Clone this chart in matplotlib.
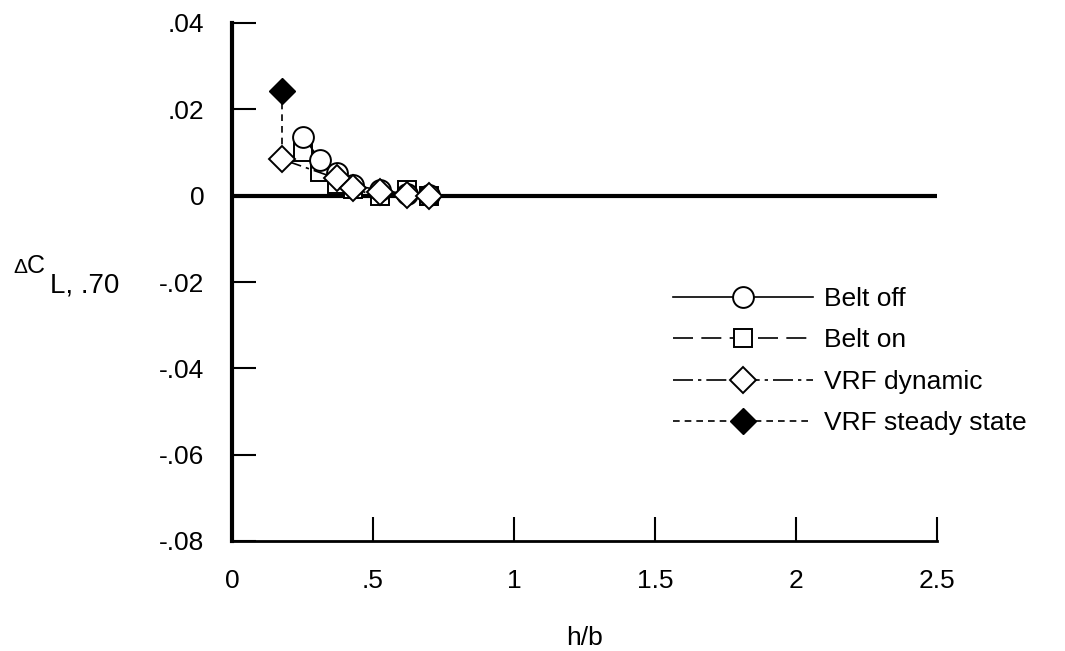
import numpy as np
import matplotlib.pyplot as plt

plt.rcParams['font.family'] = ['Liberation Sans', 'DejaVu Sans']
plt.rcParams['axes.unicode_minus'] = False

# h/b と ΔC_L,.70
hb_off = [0.253, 0.312, 0.371, 0.43, 0.525, 0.62, 0.70]
dcl_off = [0.0137, 0.0082, 0.0052, 0.0024, 0.0013, 0.0004, 0.0002]

hb_on = [0.253, 0.312, 0.371, 0.43, 0.525, 0.62, 0.70]
dcl_on = [0.0102, 0.0055, 0.0027, 0.0015, -0.0001, 0.0012, 0.0]

hb_dyn = [0.178, 0.371, 0.43, 0.525, 0.62, 0.70]
dcl_dyn = [0.0084, 0.0040, 0.0018, 0.0008, 0.0002, 0.0]

hb_ss = [0.178, 0.178]
dcl_ss = [0.0243, 0.0084]

xticks = [0, 0.5, 1, 1.5, 2, 2.5]
xlabels = ['0', '.5', '1', '1.5', '2', '2.5']
yticks = [-0.08, -0.06, -0.04, -0.02, 0, 0.02, 0.04]
ylabels = ['-.08', '-.06', '-.04', '-.02', '0', '.02', '.04']

fs = 19
fig = plt.figure(figsize=(10.65, 6.51), dpi=100)
ax = fig.add_axes([232/1065, 1-541/651, 705/1065, 518/651])

lw = 1.2
mew = 1.4
ax.plot(hb_ss, dcl_ss, color='k', lw=lw, ls=(0, (4, 3)), marker='D', ms=13,
        mfc='k', mec='k', markevery=[0], label='VRF steady state', zorder=3)
ax.plot(hb_off, dcl_off, color='k', lw=lw, ls='-', marker='o', ms=15,
        mfc='white', mec='k', mew=mew, label='Belt off', zorder=4)
ax.plot(hb_on, dcl_on, color='k', lw=lw, ls=(0, (12, 5)), marker='s', ms=13,
        mfc='white', mec='k', mew=mew, label='Belt on', zorder=3)
ax.plot(hb_dyn, dcl_dyn, color='k', lw=lw, ls=(0, (12, 3, 2, 3)), marker='D', ms=13,
        mfc='white', mec='k', mew=mew, label='VRF dynamic', zorder=5)

ax.axhline(0, color='k', lw=3, zorder=2)

ax.set_xlim(0, 2.5)
ax.set_ylim(-0.08, 0.04)
ax.set_xticks(xticks)
ax.set_xticklabels(xlabels)
ax.set_yticks(yticks)
ax.set_yticklabels(ylabels)
ax.tick_params(direction='in', length=17, width=1.5, pad=20, labelsize=fs)
ax.spines['top'].set_visible(False)
ax.spines['right'].set_visible(False)
ax.spines['left'].set_linewidth(3)
ax.spines['bottom'].set_linewidth(2)
ax.set_xlabel('h/b', fontsize=fs, labelpad=24)

# y軸ラベル ΔC_L,.70
fig.text(13/1065, 1-273/651, 'Δ', fontsize=15, va='baseline', ha='left')
fig.text(27/1065, 1-273/651, 'C', fontsize=18, va='baseline', ha='left')
fig.text(50/1065, 1-293/651, 'L, .70', fontsize=20, va='baseline', ha='left')

h, l = ax.get_legend_handles_labels()
order = [1, 2, 3, 0]
ax.legend([h[i] for i in order], [l[i] for i in order], loc='upper left',
          bbox_to_anchor=(673/1065, 1-287/651), bbox_transform=fig.transFigure,
          frameon=False, fontsize=fs, borderpad=0, borderaxespad=0,
          handlelength=5.3, handletextpad=0.42, labelspacing=0.66, numpoints=1)

plt.savefig('out.png', dpi=100)
